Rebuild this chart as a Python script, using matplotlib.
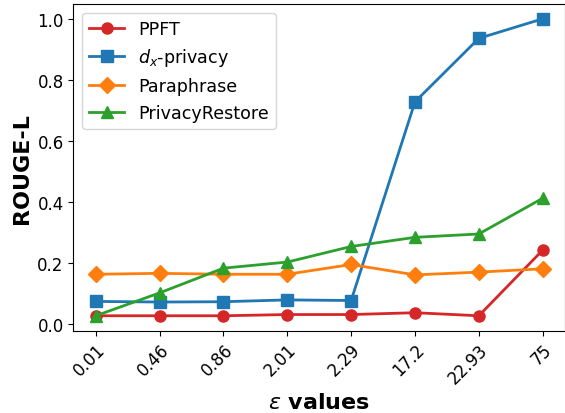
import numpy as np
import matplotlib
matplotlib.use('Agg')
import matplotlib.pyplot as plt

eps_labels = ['0.01', '0.46', '0.86', '2.01', '2.29', '17.2', '22.93', '75']

ppft = [0.027, 0.027, 0.027, 0.031, 0.031, 0.037, 0.027, 0.242]
dx_privacy = [0.074, 0.072, 0.073, 0.079, 0.077, 0.728, 0.936, 1.0]
paraphrase = [0.163, 0.166, 0.163, 0.163, 0.195, 0.161, 0.170, 0.181]
privacy_restore = [0.027, 0.102, 0.183, 0.203, 0.254, 0.284, 0.295, 0.412]

x = np.arange(len(eps_labels))

fig, ax = plt.subplots(figsize=(5.65, 4.14), dpi=100)
fig.subplots_adjust(left=0.130, right=1.0, top=0.988, bottom=0.199)

ax.plot(x, ppft, color='tab:red', marker='o', markersize=8, linewidth=2, label='PPFT')
ax.plot(x, dx_privacy, color='tab:blue', marker='s', markersize=8, linewidth=2, label='$d_x$-privacy')
ax.plot(x, paraphrase, color='tab:orange', marker='D', markersize=8, linewidth=2, label='Paraphrase')
ax.plot(x, privacy_restore, color='tab:green', marker='^', markersize=8, linewidth=2, label='PrivacyRestore')

ax.set_xticks(x)
ax.set_xticklabels(eps_labels, rotation=45, ha='right', rotation_mode='anchor')
ax.tick_params(axis='both', labelsize=12)
ax.set_xlabel(r'$\epsilon$ values', fontsize=16, fontweight='bold')
ax.set_ylabel('ROUGE-L', fontsize=16, fontweight='bold')
ax.legend(loc='upper left', fontsize=12.6)

fig.savefig('out.png', dpi=100)
